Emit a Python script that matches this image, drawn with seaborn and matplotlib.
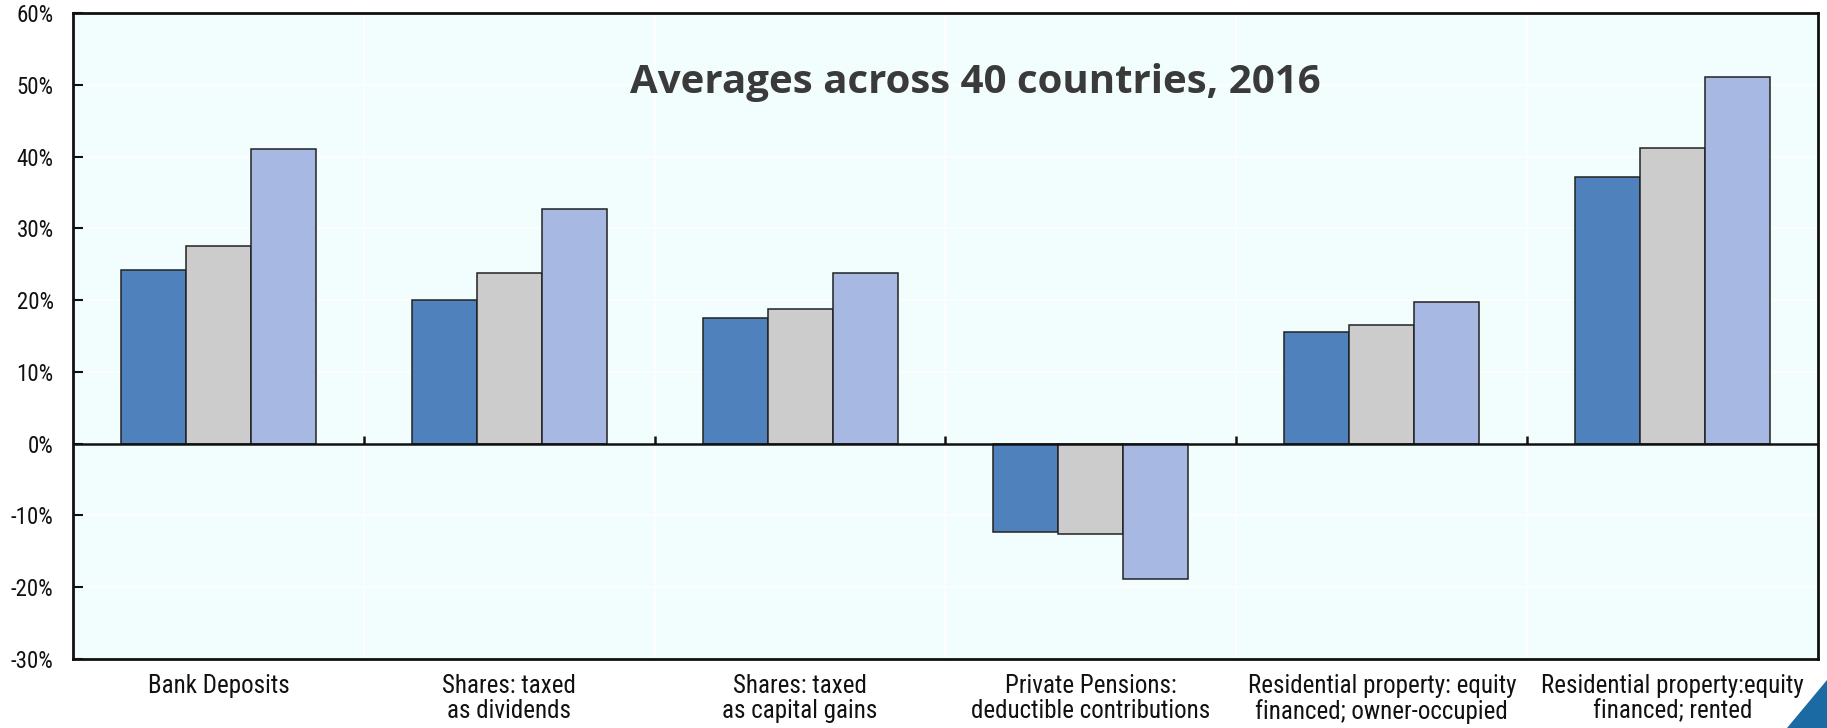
import matplotlib
matplotlib.use('Agg')
import matplotlib.pyplot as plt
from matplotlib.patches import Polygon
from matplotlib.ticker import FuncFormatter, MultipleLocator
import numpy as np
import pandas as pd
import seaborn as sns

# 数据
categories = ['Bank Deposits',
              'Shares: taxed\nas dividends',
              'Shares: taxed\nas capital gains',
              'Private Pensions:\ndeductible contributions',
              'Residential property: equity\nfinanced; owner-occupied',
              'Residential property:equity\nfinanced; rented']
series_names = ['Series 1', 'Series 2', 'Series 3']
series_1 = [24.2, 20.0, 17.5, -12.3, 15.6, 37.2]
series_2 = [27.5, 23.8, 18.8, -12.6, 16.5, 41.2]
series_3 = [41.0, 32.7, 23.8, -18.8, 19.8, 51.1]
bar_colors = ['#4f81bd', '#cccccc', '#a7b8e2']
title_text = 'Averages across 40 countries, 2016'

df = pd.DataFrame({
    'category': categories * 3,
    'series': [series_names[0]] * 6 + [series_names[1]] * 6 + [series_names[2]] * 6,
    'value': series_1 + series_2 + series_3,
})

sns.set_style('white')
plt.rcParams['font.family'] = ['Roboto Condensed', 'Liberation Sans Narrow', 'Roboto', 'DejaVu Sans']

fig = plt.figure(figsize=(18.27, 7.28), dpi=100)
ax = fig.add_axes([73 / 1827, 1 - 659 / 728, (1818 - 73) / 1827, (659 - 13) / 728])
ax.set_facecolor('#f2fefe')

sns.barplot(data=df, x='category', y='value', hue='series', order=categories,
            hue_order=series_names, palette=bar_colors, saturation=1, width=0.67, gap=0,
            edgecolor='#222222', linewidth=1.1, legend=False, ax=ax)

ax.set_ylim(-30, 60)
ax.yaxis.set_major_locator(MultipleLocator(10))
ax.yaxis.set_major_formatter(FuncFormatter(lambda v, p: '%d%%' % round(v)))
ax.set_xlim(-0.5, len(categories) - 0.5)
ax.set_xlabel('')
ax.set_ylabel('')

# 网格线 (白色)
ax.set_xticks(np.arange(len(categories) - 1) + 0.5, minor=True)
ax.grid(True, which='major', axis='y', color='white', linewidth=1.2)
ax.grid(True, which='minor', axis='x', color='white', linewidth=1.2)
ax.set_axisbelow(True)

ax.tick_params(axis='y', which='major', direction='in', length=7, width=1.5,
               labelsize=16.5, pad=14, colors='#111111', left=True)
ax.tick_params(axis='x', which='major', length=0, labelsize=18, pad=11, colors='#111111')
ax.tick_params(axis='x', which='minor', length=0)
for lab in ax.get_xticklabels():
    lab.set_linespacing(1.05)

# 零线和分类分隔刻度
ax.axhline(0, color='#111111', linewidth=1.8, zorder=3)
ax.vlines(np.arange(len(categories) - 1) + 0.5, 0, 1.1, color='#111111', linewidth=1.8, zorder=3)

for side in ['left', 'bottom', 'top', 'right']:
    ax.spines[side].set_visible(True)
    ax.spines[side].set_color('#111111')
    ax.spines[side].set_linewidth(2)

ax.text(0.517, 0.893, title_text, transform=ax.transAxes, ha='center', va='center',
        fontsize=29, fontweight='bold', color='#3a3a3a', family=['Open Sans', 'DejaVu Sans'])

# 右下角装饰三角形
fig.patches.append(Polygon([[1787 / 1827, 0], [1, 48 / 728], [1, 0]], closed=True,
                           transform=fig.transFigure, facecolor='#1b6aa3', edgecolor='none'))

fig.savefig('out.png', dpi=100)
